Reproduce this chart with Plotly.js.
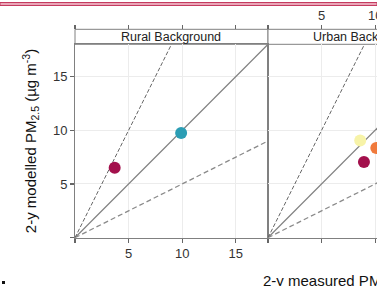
<!DOCTYPE html>
<html>
<head>
<meta charset="utf-8">
<script src="https://cdn.plot.ly/plotly-3.0.1.min.js"></script>
<style>html,body{margin:0;padding:0;background:#fff;}#chart{width:377px;height:286px;}</style>
</head>
<body>
<div id="chart"></div>
<script>
// ---- data ----
const panels = ["Rural Background", "Urban Background"];
const ruralX = [3.7, 9.9];
const ruralY = [6.5, 9.75];
const ruralColors = ["#a3104c", "#2b9db4"];
const urbanX = [8.6, 8.95, 10.1];
const urbanY = [9.05, 7.05, 8.35];
const urbanColors = ["#f7f3a8", "#a3104c", "#f07a3c"];
const refX = [0, 18];
const oneToOneY = [0, 18];
const twoToOneX = [0, 9];
const twoToOneY = [0, 18];
const halfX = [0, 18];
const halfY = [0, 9];
const tickVals = [0, 5, 10, 15];
const tickText = ["", "5", "10", "15"];

const W = 377, H = 286;
const px = v => v / W, py = v => 1 - v / H;
const xL = 75, xM = 268, yB = 237.7, yT = 44.3, stripT = 29.3;
const unit = (xM - xL) / 18;
const font = "Liberation Sans, Arial, Helvetica, sans-serif";

function refLines(xa, ya) {
  return [
    {x: refX, y: oneToOneY, xaxis: xa, yaxis: ya, mode: "lines", line: {color: "#7f7f7f", width: 1.2}, hoverinfo: "skip", showlegend: false},
    {x: twoToOneX, y: twoToOneY, xaxis: xa, yaxis: ya, mode: "lines", line: {color: "#555", width: 0.9, dash: "4px,2px"}, hoverinfo: "skip", showlegend: false},
    {x: halfX, y: halfY, xaxis: xa, yaxis: ya, mode: "lines", line: {color: "#8a8a8a", width: 1.3, dash: "5px,3px"}, hoverinfo: "skip", showlegend: false}
  ];
}

const traces = [
  ...refLines("x", "y"),
  ...refLines("x2", "y2"),
  {x: ruralX, y: ruralY, xaxis: "x", yaxis: "y", mode: "markers", marker: {size: 12, color: ruralColors}, showlegend: false, cliponaxis: false},
  {x: urbanX, y: urbanY, xaxis: "x2", yaxis: "y2", mode: "markers", marker: {size: 12, color: urbanColors}, showlegend: false},
  // empty traces so the top (strip) axes get drawn
  {x: [], y: [], xaxis: "x3", yaxis: "y", mode: "markers", showlegend: false},
  {x: [], y: [], xaxis: "x4", yaxis: "y2", mode: "markers", showlegend: false}
];

const gridC = "#ececec", lineC = "#808080", tickFont = {family: font, size: 13, color: "#333"};
const baseX = {
  range: [0, 18], showgrid: true, gridcolor: gridC, gridwidth: 1, zeroline: false,
  showline: true, linecolor: lineC, linewidth: 1, mirror: true,
  tickmode: "array", tickvals: tickVals, ticktext: tickText,
  ticks: "outside", ticklen: 4, tickwidth: 1.2, tickcolor: "#666", tickfont: tickFont,
  ticklabeloverflow: "allow"
};
const panel2Range = [0, (W - xM) / unit];

const layout = {
  width: W, height: H,
  margin: {l: 0, r: 0, t: 0, b: 0},
  paper_bgcolor: "#fff", plot_bgcolor: "#fff",
  showlegend: false,
  xaxis: Object.assign({}, baseX, {domain: [px(xL), px(xM)], anchor: "y"}),
  xaxis2: Object.assign({}, baseX, {domain: [px(xM), 1], range: panel2Range, anchor: "y2", showticklabels: false, mirror: false}),
  xaxis3: Object.assign({}, baseX, {domain: [px(xL), px(xM)], overlaying: "x", side: "top", anchor: "free", position: py(stripT), showgrid: false, showticklabels: false, mirror: false, showline: false}),
  xaxis4: Object.assign({}, baseX, {domain: [px(xM), 1], overlaying: "x2", range: panel2Range, side: "top", anchor: "free", position: py(stripT), showgrid: false, showticklabels: true, mirror: false, showline: false}),
  yaxis: {
    domain: [py(yB), py(yT)], range: [0, 18], anchor: "x",
    showgrid: true, gridcolor: gridC, zeroline: false,
    showline: true, linecolor: lineC, mirror: true,
    tickmode: "array", tickvals: tickVals, ticktext: tickText,
    ticks: "outside", ticklen: 4, tickwidth: 1.2, tickcolor: "#666", tickfont: tickFont,
    title: {text: "2-y modelled PM<sub>2.5</sub> (µg m<sup>-3</sup>)", font: {family: font, size: 15, color: "#111"}, standoff: 12}
  },
  yaxis2: {
    domain: [py(yB), py(yT)], range: [0, 18], anchor: "x2",
    showgrid: true, gridcolor: gridC, zeroline: false,
    showline: true, linecolor: lineC, mirror: false,
    tickmode: "array", tickvals: tickVals, showticklabels: false, ticks: ""
  },
  shapes: [
    {type: "rect", xref: "paper", yref: "paper", x0: 0, x1: 1, y0: py(5.5), y1: py(2.5), fillcolor: "#eaa6b8", line: {color: "#c43b60", width: 1}},
    {type: "rect", xref: "paper", yref: "paper", x0: px(xL), x1: px(xM), y0: py(yT), y1: py(stripT), fillcolor: "#fff", line: {color: lineC, width: 1}, layer: "below"},
    {type: "rect", xref: "paper", yref: "paper", x0: px(xM), x1: 1.01, y0: py(yT), y1: py(stripT), fillcolor: "#fff", line: {color: lineC, width: 1}, layer: "below"},
    {type: "rect", xref: "paper", yref: "paper", x0: px(2), x1: px(5), y0: py(284), y1: py(281), fillcolor: "#111", line: {width: 0}}
  ],
  annotations: [
    {text: panels[0], xref: "paper", yref: "paper", x: (px(xL) + px(xM)) / 2, y: py((stripT + yT) / 2), xanchor: "center", yanchor: "middle", showarrow: false, font: {family: font, size: 12.5, color: "#222"}},
    {text: panels[1], xref: "paper", yref: "paper", x: px(xM + 96.5), y: py((stripT + yT) / 2), xanchor: "center", yanchor: "middle", showarrow: false, font: {family: font, size: 12.5, color: "#222"}},
    {text: "2-y measured PM<sub>2.5</sub> (µg m<sup>-3</sup>)", xref: "paper", yref: "paper", x: px(261), y: py(280), xanchor: "left", yanchor: "middle", showarrow: false, font: {family: font, size: 15, color: "#111"}}
  ]
};

Plotly.newPlot("chart", traces, layout, {staticPlot: true, displayModeBar: false});
</script>
</body>
</html>
